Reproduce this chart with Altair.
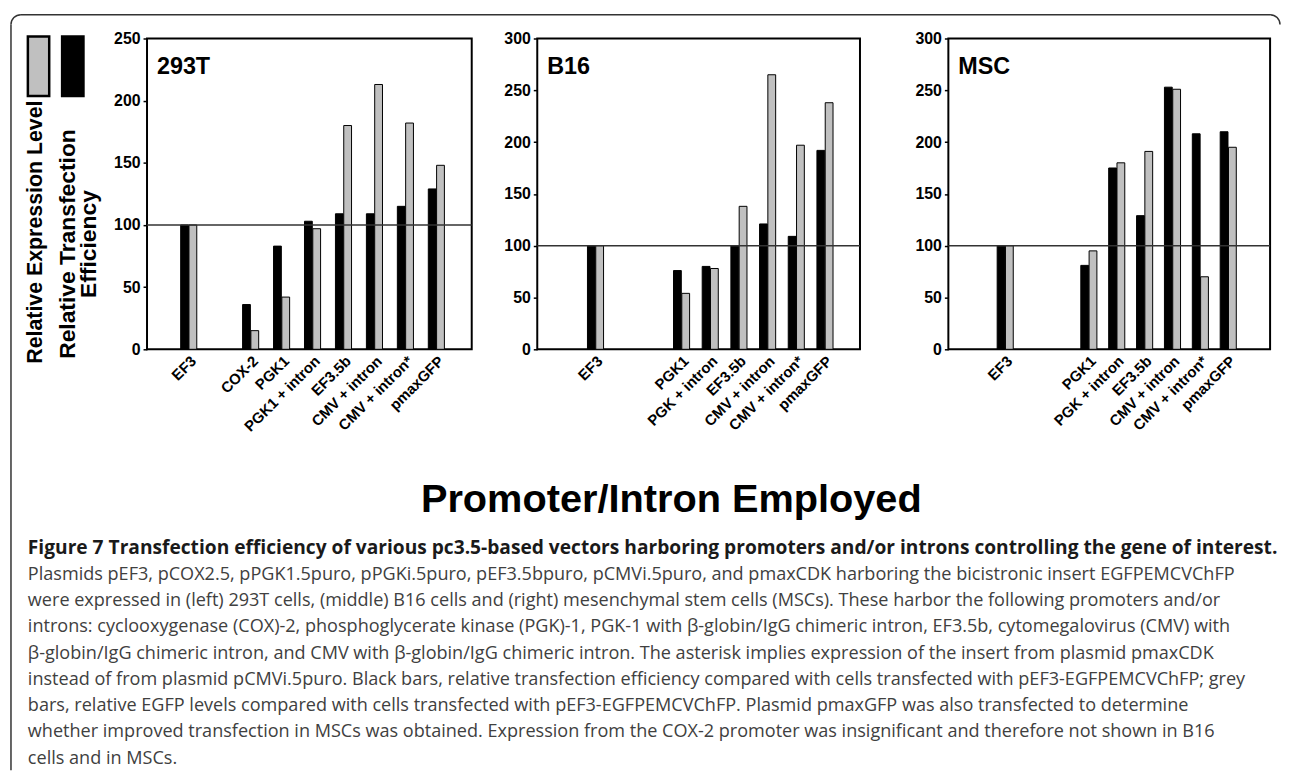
import altair as alt
import pandas as pd

FONT = "Liberation Sans"
CAPTION_FONT = "Open Sans"

# ---------------- data ----------------
SERIES = ["Relative Transfection Efficiency", "Relative Expression Level"]
SERIES_COLORS = ["#000000", "#c0c0c0"]

LEGEND_ORDER = ["Relative Expression Level", "Relative Transfection Efficiency"]
LEGEND_COLORS = ["#c0c0c0", "#000000"]
LEGEND_LABELS = ["Relative Expression Level", "Relative Transfection\nEfficiency"]

REF_LEVEL = [100]

# 293T
CATS_293T = ["EF3", "COX-2", "PGK1", "PGK1 + intron", "EF3.5b",
             "CMV + intron", "CMV + intron*", "pmaxGFP"]
SLOTS_293T = ["EF3", " ", "COX-2", "PGK1", "PGK1 + intron", "EF3.5b",
              "CMV + intron", "CMV + intron*", "pmaxGFP"]
BLACK_293T = [100, 36, 83, 103, 109, 109, 115, 129]
GRAY_293T = [100, 15, 42, 97, 180, 213, 182, 148]
YTICKS_293T = [0, 50, 100, 150, 200, 250]

# B16
CATS_B16 = ["EF3", "PGK1", "PGK + intron", "EF3.5b",
            "CMV + intron", "CMV + intron*", "pmaxGFP"]
SLOTS_B16 = ["   ", "EF3", " ", "  ", "PGK1", "PGK + intron", "EF3.5b",
             "CMV + intron", "CMV + intron*", "pmaxGFP"]
BLACK_B16 = [100, 76, 80, 100, 121, 109, 192]
GRAY_B16 = [100, 54, 78, 138, 265, 197, 238]
YTICKS_B16 = [0, 50, 100, 150, 200, 250, 300]

# MSC
CATS_MSC = CATS_B16
SLOTS_MSC = SLOTS_B16
BLACK_MSC = [100, 81, 175, 129, 253, 208, 210]
GRAY_MSC = [100, 95, 180, 191, 251, 70, 195]
YTICKS_MSC = [0, 50, 100, 150, 200, 250, 300]

AXIS_TITLE = ["Promoter/Intron Employed"]
CAPTION_HEAD = ["Figure 7 Transfection efficiency of various pc3.5-based vectors harboring promoters and/or introns controlling the gene of interest."]
CAPTION_BODY = [
    "Plasmids pEF3, pCOX2.5, pPGK1.5puro, pPGKi.5puro, pEF3.5bpuro, pCMVi.5puro, and pmaxCDK harboring the bicistronic insert EGFPEMCVChFP",
    "were expressed in (left) 293T cells, (middle) B16 cells and (right) mesenchymal stem cells (MSCs). These harbor the following promoters and/or",
    "introns: cyclooxygenase (COX)-2, phosphoglycerate kinase (PGK)-1, PGK-1 with \u03b2-globin/IgG chimeric intron, EF3.5b, cytomegalovirus (CMV) with",
    "\u03b2-globin/IgG chimeric intron, and CMV with \u03b2-globin/IgG chimeric intron. The asterisk implies expression of the insert from plasmid pmaxCDK",
    "instead of from plasmid pCMVi.5puro. Black bars, relative transfection efficiency compared with cells transfected with pEF3-EGFPEMCVChFP; grey",
    "bars, relative EGFP levels compared with cells transfected with pEF3-EGFPEMCVChFP. Plasmid pmaxGFP was also transfected to determine",
    "whether improved transfection in MSCs was obtained. Expression from the COX-2 promoter was insignificant and therefore not shown in B16",
    "cells and in MSCs.",
]

PANEL_H = 313


def make_panel(name, cats, slots, black, gray, yticks, width, pin, pout, align):
    df = pd.DataFrame({
        "promoter": cats + cats,
        "series": [SERIES[0]] * len(cats) + [SERIES[1]] * len(cats),
        "value": black + gray,
    })
    bars = alt.Chart(df).mark_bar(stroke="black", strokeWidth=1).encode(
        x=alt.X("promoter:N", sort=None,
                scale=alt.Scale(domain=slots, paddingInner=pin, paddingOuter=pout, align=align),
                axis=alt.Axis(title=None, labelAngle=-45, ticks=False, domain=False,
                              labelFont=FONT, labelFontSize=15, labelFontWeight="bold",
                              labelColor="black", labelPadding=4, labelOverlap=False)),
        xOffset=alt.XOffset("series:N", sort=None,
                            scale=alt.Scale(domain=SERIES, paddingInner=0.06)),
        y=alt.Y("value:Q", scale=alt.Scale(domain=[yticks[0], yticks[-1]], nice=False),
                axis=alt.Axis(title=None, values=yticks, grid=False, domain=False,
                              tickColor="black", tickSize=4, tickWidth=1.5,
                              labelFont=FONT, labelFontSize=16, labelFontWeight="bold",
                              labelColor="black", labelPadding=3)),
        color=alt.Color("series:N", scale=alt.Scale(domain=SERIES, range=SERIES_COLORS), legend=None),
    )
    rule = alt.Chart(pd.DataFrame({"ref": REF_LEVEL})).mark_rule(
        color="#333333", strokeWidth=1.6).encode(y="ref:Q")
    label = alt.Chart(pd.DataFrame({"name": [name]})).mark_text(
        align="left", baseline="alphabetic", font=FONT, fontSize=23.5,
        fontWeight="bold", color="black").encode(
        x=alt.value(10), y=alt.value(36), text="name:N")
    return alt.layer(bars, rule, label).properties(width=width, height=PANEL_H)


def spacer(w):
    return alt.Chart(pd.DataFrame({"a": [0]})).mark_point(opacity=0).encode(
        x=alt.value(0), y=alt.value(0)
    ).properties(width=w, height=PANEL_H, view=alt.ViewBackground(stroke="transparent"))


p1 = make_panel("293T", CATS_293T, SLOTS_293T, BLACK_293T, GRAY_293T, YTICKS_293T,
                327, 0.48, 0.985, 0.552)
p2 = make_panel("B16", CATS_B16, SLOTS_B16, BLACK_B16, GRAY_B16, YTICKS_B16,
                325, 0.463, 0.857, 0.4376)
p3 = make_panel("MSC", CATS_MSC, SLOTS_MSC, BLACK_MSC, GRAY_MSC, YTICKS_MSC,
                324, 0.448, 0.994, 0.3776)

# ---------------- legend + decoration view ----------------
leg_df = pd.DataFrame({"series": LEGEND_ORDER, "label": LEGEND_LABELS})
legx = alt.X("series:N", sort=None,
             scale=alt.Scale(domain=LEGEND_ORDER, paddingInner=0.377, paddingOuter=0.493),
             axis=None)
boxes = alt.Chart(leg_df).mark_rect(stroke="black", strokeWidth=2.5).encode(
    x=legx, y=alt.value(-2), y2=alt.value(58),
    color=alt.Color("series:N", scale=alt.Scale(domain=LEGEND_ORDER, range=LEGEND_COLORS), legend=None))
leg_text1 = alt.Chart(leg_df).transform_filter(
    alt.datum.series == LEGEND_ORDER[0]).mark_text(
    angle=270, align="center", baseline="middle", font=FONT, fontSize=21.5,
    fontWeight="bold", color="black", dy=-2.5).encode(
    x=legx, y=alt.value(195), text="label:N")
leg_text2 = alt.Chart(leg_df).transform_filter(
    alt.datum.series == LEGEND_ORDER[1]).mark_text(
    angle=270, align="center", baseline="middle", font=FONT, fontSize=23,
    fontWeight="bold", color="black", dy=-5, lineBreak="\n", lineHeight=21).encode(
    x=legx, y=alt.value(207), text="label:N")

BORDER = "#333333"
border_left = alt.Chart(pd.DataFrame({"a": [0]})).mark_rule(color=BORDER, strokeWidth=1.5).encode(
    x=alt.value(0), y=alt.value(-14), y2=alt.value(737))
border_top = alt.Chart(pd.DataFrame({"a": [0]})).mark_rule(color=BORDER, strokeWidth=1.5).encode(
    x=alt.value(10), x2=alt.value(1268), y=alt.value(-24))
corner_tl = alt.Chart(pd.DataFrame({"a": [0]})).mark_arc(
    innerRadius=9.25, outerRadius=10.75, theta=4.712389, theta2=6.283185, color=BORDER).encode(
    x=alt.value(10), y=alt.value(-14))
corner_tr = alt.Chart(pd.DataFrame({"a": [0]})).mark_arc(
    innerRadius=9.25, outerRadius=10.75, theta=0, theta2=1.570796, color=BORDER).encode(
    x=alt.value(1268), y=alt.value(-14))

title_txt = alt.Chart(pd.DataFrame({"t": AXIS_TITLE})).mark_text(
    align="center", baseline="alphabetic", font=FONT, fontSize=40, fontWeight="bold",
    color="black").encode(x=alt.value(665), y=alt.value(477), text="t:N")
cap_head = alt.Chart(pd.DataFrame({"t": CAPTION_HEAD})).mark_text(
    align="left", baseline="alphabetic", font=CAPTION_FONT, fontSize=19.3, fontWeight="bold",
    color="#1a1a1a").encode(x=alt.value(17), y=alt.value(519), text="t:N")
cap_body = alt.Chart(pd.DataFrame({"t": ["\n".join(CAPTION_BODY)]})).mark_text(
    align="left", baseline="alphabetic", font=CAPTION_FONT, fontSize=18.2,
    color="#404040", lineBreak="\n", lineHeight=26.4).encode(
    x=alt.value(17), y=alt.value(545.4), text="t:N")

legend_view = alt.layer(
    border_left, border_top, corner_tl, corner_tr,
    boxes, leg_text1, leg_text2, title_txt, cap_head, cap_body,
).properties(width=90, height=PANEL_H, view=alt.ViewBackground(stroke="transparent"))

chart = alt.hconcat(
    legend_view, spacer(47), p1, spacer(66), p2, spacer(89), p3,
    spacing=0, bounds="flush",
).properties(
    padding={"left": 1, "top": 2, "right": 0, "bottom": 0}
).configure_view(stroke="black", strokeWidth=2)

chart.save("out.html", embed_options={"renderer": "svg", "actions": False})
